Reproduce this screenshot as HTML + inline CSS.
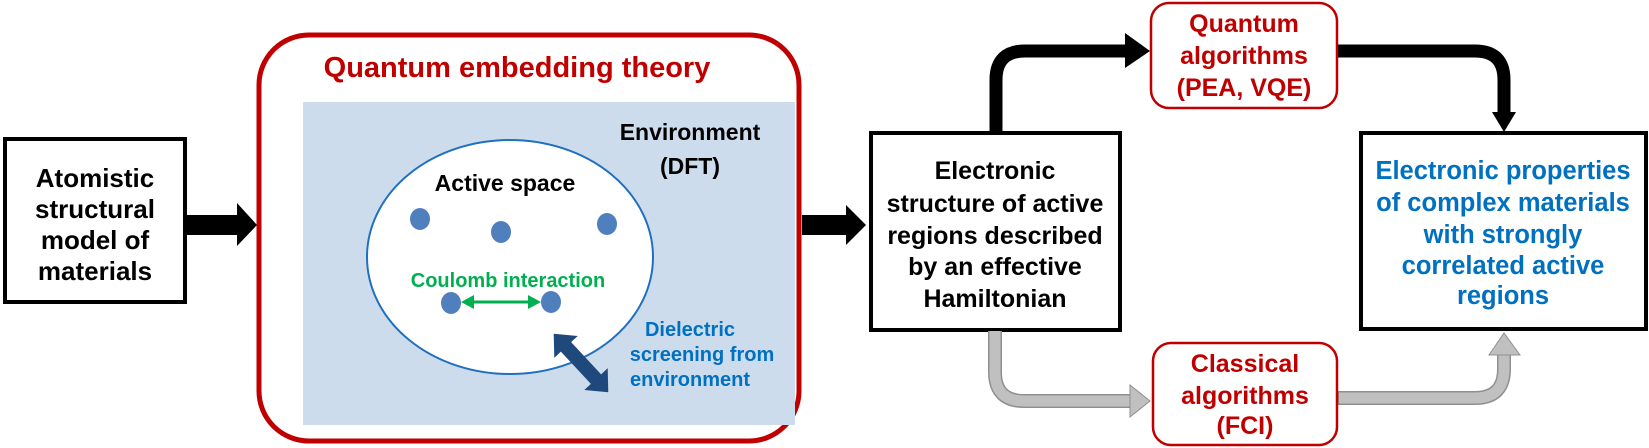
<!DOCTYPE html>
<html><head><meta charset="utf-8"><style>
html,body{margin:0;padding:0;background:#fff;}
svg{display:block;}
text{font-family:"Liberation Sans",Arial,sans-serif;font-weight:bold;text-anchor:middle;}
</style></head><body>
<svg width="1649" height="448" viewBox="0 0 1649 448" xmlns="http://www.w3.org/2000/svg">
<!-- Box 1 -->
<rect x="5" y="139" width="180" height="163" fill="#fff" stroke="#000" stroke-width="4"/>
<text font-size="26" fill="#000"><tspan x="95" y="187">Atomistic</tspan><tspan x="95" y="218">structural</tspan><tspan x="95" y="249">model of</tspan><tspan x="95" y="280">materials</tspan></text>
<!-- arrow 1 -->
<polygon points="187,215 237,215 237,203 257,225 237,246 237,235 187,235" fill="#000"/>
<!-- red box -->
<rect x="259" y="35" width="540" height="406" rx="50" fill="#fff" stroke="#c00000" stroke-width="5"/>
<text x="517" y="77" font-size="29" fill="#c00000">Quantum embedding theory</text>
<rect x="303" y="102" width="492" height="323" fill="#cddced"/>
<ellipse cx="510" cy="257" rx="143" ry="117" fill="#fff" stroke="#1f70c0" stroke-width="2"/>
<text x="505" y="191" font-size="23" fill="#000">Active space</text>
<text font-size="23" fill="#000"><tspan x="690" y="140">Environment</tspan><tspan x="690" y="174">(DFT)</tspan></text>
<ellipse cx="420" cy="219" rx="10" ry="11" fill="#4f7fbd"/>
<ellipse cx="501" cy="232" rx="10" ry="11" fill="#4f7fbd"/>
<ellipse cx="607" cy="224" rx="10" ry="11" fill="#4f7fbd"/>
<ellipse cx="451" cy="303" rx="10" ry="11" fill="#4f7fbd"/>
<ellipse cx="551" cy="302" rx="10" ry="11" fill="#4f7fbd"/>
<text x="508" y="287" font-size="20" fill="#00b050">Coulomb interaction</text>
<line x1="470" y1="302" x2="532" y2="302" stroke="#00b050" stroke-width="3"/>
<polygon points="461,302 474,295 474,309" fill="#00b050"/>
<polygon points="541,302 528,295 528,309" fill="#00b050"/>
<!-- dark blue double arrow -->
<g transform="translate(581,363) rotate(47)">
<polygon points="-40,0 -22,-16 -22,-7 22,-7 22,-16 40,0 22,16 22,7 -22,7 -22,16" fill="#1f497d"/>
</g>
<text font-size="20" fill="#0070c0"><tspan x="690" y="336">Dielectric</tspan><tspan x="702" y="361">screening from</tspan><tspan x="690" y="386">environment</tspan></text>
<!-- arrow 2 -->
<polygon points="802,215 846,215 846,205 866,225 846,245 846,235 802,235" fill="#000"/>
<!-- Electronic structure box -->
<rect x="871" y="133" width="249" height="197" fill="#fff" stroke="#000" stroke-width="4"/>
<text font-size="25" fill="#000"><tspan x="995" y="179">Electronic</tspan><tspan x="995" y="212">structure of active</tspan><tspan x="995" y="244">regions described</tspan><tspan x="995" y="275">by an effective</tspan><tspan x="995" y="307">Hamiltonian</tspan></text>
<!-- black arrows -->
<path d="M996,131 V80 Q996,51 1025,51 H1127" fill="none" stroke="#000" stroke-width="13"/>
<polygon points="1125,33 1150,51 1125,68" fill="#000"/>
<path d="M1337,51 H1475 Q1504,51 1504,80 V114" fill="none" stroke="#000" stroke-width="13"/>
<polygon points="1492,112 1516,112 1504,132" fill="#000"/>
<!-- Quantum algorithms box -->
<rect x="1151" y="3" width="186" height="105" rx="18" fill="#fff" stroke="#c00000" stroke-width="2.5"/>
<text font-size="25" fill="#c00000"><tspan x="1244" y="32">Quantum</tspan><tspan x="1244" y="64">algorithms</tspan><tspan x="1244" y="96">(PEA, VQE)</tspan></text>
<!-- gray arrows -->
<path d="M995,331 V372 Q995,401 1024,401 H1132" fill="none" stroke="#8f8f8f" stroke-width="14"/>
<path d="M995,331 V372 Q995,401 1024,401 H1132" fill="none" stroke="#c0c0c0" stroke-width="11"/>
<polygon points="1130,385 1150,401 1130,417" fill="#c0c0c0" stroke="#8f8f8f" stroke-width="1"/>
<path d="M1338,398 H1475 Q1504,398 1504,369 V353" fill="none" stroke="#8f8f8f" stroke-width="14"/>
<path d="M1339,398 H1475 Q1504,398 1504,369 V352" fill="none" stroke="#c0c0c0" stroke-width="11"/>
<polygon points="1489,355 1520,355 1504,333" fill="#c0c0c0" stroke="#8f8f8f" stroke-width="1"/>
<!-- Classical box -->
<rect x="1153" y="343" width="184" height="102" rx="18" fill="#fff" stroke="#c00000" stroke-width="2.5"/>
<text font-size="25" fill="#c00000"><tspan x="1245" y="372">Classical</tspan><tspan x="1245" y="404">algorithms</tspan><tspan x="1245" y="434">(FCI)</tspan></text>
<!-- Right box -->
<rect x="1361" y="133" width="285" height="196" fill="#fff" stroke="#000" stroke-width="4"/>
<text font-size="25.5" fill="#0070c0"><tspan x="1503" y="179">Electronic properties</tspan><tspan x="1503" y="211">of complex materials</tspan><tspan x="1503" y="243">with strongly</tspan><tspan x="1503" y="274">correlated active</tspan><tspan x="1503" y="304">regions</tspan></text>
</svg>
</body></html>
